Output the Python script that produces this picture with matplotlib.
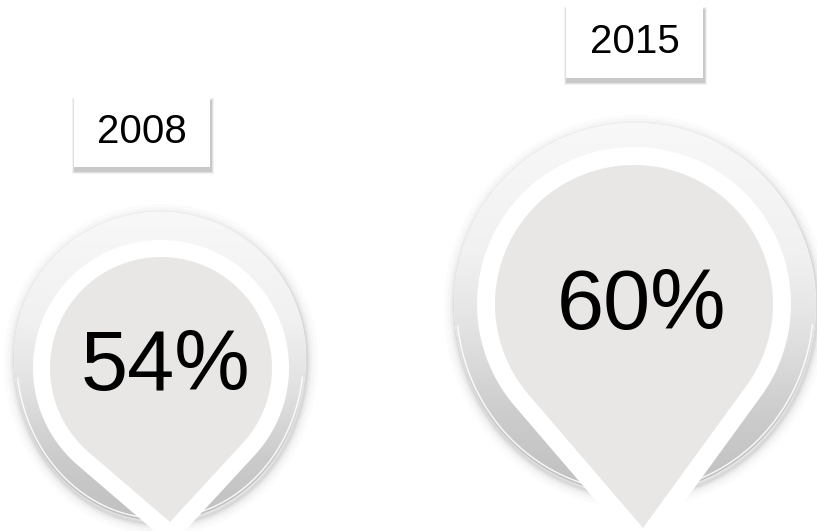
import numpy as np
import matplotlib
matplotlib.use('Agg')
import matplotlib.pyplot as plt
from matplotlib.patches import Polygon, Rectangle
from matplotlib.colors import LinearSegmentedColormap

years = ['2008', '2015']
values = [54, 60]

# pin layout in pixel units (x, y from the top-left)
pin_center = [(161, 368), (634, 304)]
pin_radius = [111, 139]
pin_tip = [(170, 522), (643, 528)]
# outer egg: centre, half width, top radius, bottom radius
egg_center = [(160, 357), (635, 304)]
egg_a = [146, 181]
egg_top = [145, 181]
egg_bot = [164, 190]
ring = [17, 18]
label_pos = [(165, 368), (642, 307)]
box = [(74, 97, 136, 70), (566, 6, 137, 72)]

plt.rcParams['font.family'] = ['Liberation Sans', 'DejaVu Sans']

fig = plt.figure(figsize=(8.17, 5.31), dpi=100)
ax = fig.add_axes([0, 0, 1, 1])
ax.set_xlim(0, 817)
ax.set_ylim(531, 0)
ax.axis('off')

grad = LinearSegmentedColormap.from_list(
    'g', [(0, '#f8f8f8'), (0.35, '#f1f1f1'), (0.55, '#e3e3e3'),
          (0.8, '#cbcbcb'), (1, '#c0c0c0')])


def teardrop(c, r, tip, n=200):
    cx, cy = c
    vx, vy = tip[0] - cx, tip[1] - cy
    d = np.hypot(vx, vy)
    phi = np.arctan2(vy, vx)
    a = np.arccos(r / d)
    t = np.linspace(phi + a, phi + 2 * np.pi - a, n)
    pts = np.column_stack([cx + r * np.cos(t), cy + r * np.sin(t)])
    return np.vstack([pts, [tip]])


def egg(c, a, bt, bb, n=400):
    t = np.linspace(0, 2 * np.pi, n)
    s = np.sin(t)
    b = np.where(s > 0, bb, bt)
    return np.column_stack([c[0] + a * np.cos(t), c[1] + b * s])


for i in range(len(years)):
    cx, cy = pin_center[i]
    r = pin_radius[i]
    tx, ty = pin_tip[i]
    d = np.hypot(tx - cx, ty - cy)
    s = r / d

    # outer gradient egg with soft shadow
    ex, ey = egg_center[i]
    pts = egg(egg_center[i], egg_a[i], egg_top[i], egg_bot[i])
    for lw, al in [(16, 0.015), (11, 0.02), (7, 0.03), (4, 0.04), (2, 0.05)]:
        ax.add_patch(Polygon(pts + [1, 3], closed=True, facecolor='none',
                             edgecolor='black', lw=lw, alpha=al, zorder=1))
    outer = Polygon(pts, closed=True, facecolor='white', edgecolor='none', zorder=1.5)
    ax.add_patch(outer)
    g = np.linspace(0, 1, 256).reshape(-1, 1)
    im = ax.imshow(g, cmap=grad, aspect='auto', origin='upper', zorder=2,
                   extent=(ex - egg_a[i], ex + egg_a[i], ey + egg_bot[i], ey - egg_top[i]))
    im.set_clip_path(outer)
    # thin bevel highlight along the lower edge
    hl = egg(egg_center[i], egg_a[i] - 2.5, egg_top[i] - 2.5, egg_bot[i] - 2.5)
    hl = hl[hl[:, 1] > ey + 20]
    ax.plot(hl[:, 0], hl[:, 1], color='white', lw=1.0, alpha=0.9, zorder=3)

    # white ring
    wr = r + ring[i]
    k = (d + ring[i] / s) / d
    wtip = (cx + (tx - cx) * k, cy + (ty - cy) * k)
    ax.add_patch(Polygon(teardrop((cx, cy), wr, wtip), closed=True,
                         facecolor='white', edgecolor='none', zorder=4))

    # inner grey pin
    ax.add_patch(Polygon(teardrop((cx, cy), r, (tx, ty)), closed=True,
                         facecolor='#e8e7e6', edgecolor='none', zorder=5))

    ax.text(label_pos[i][0], label_pos[i][1], f'{values[i]}%', fontsize=61,
            ha='center', va='center', color='black', zorder=6)

    # year box with soft shadow
    bx, by, bw, bh = box[i]
    for j, a in enumerate([0.05, 0.07, 0.1]):
        e = 3 - j
        ax.add_patch(Rectangle((bx + 1 - e, by + 4 - e), bw + 2 * e, bh + 2 * e,
                               facecolor='black', edgecolor='none', alpha=a, zorder=7))
    ax.add_patch(Rectangle((bx, by), bw, bh, facecolor='white', edgecolor='none', zorder=8))
    ax.text(bx + bw / 2, by + bh / 2, years[i], fontsize=29,
            ha='center', va='center', color='black', zorder=9)

ax.set_xlim(0, 817)
ax.set_ylim(531, 0)
fig.savefig('out.png', dpi=100, facecolor='white')
